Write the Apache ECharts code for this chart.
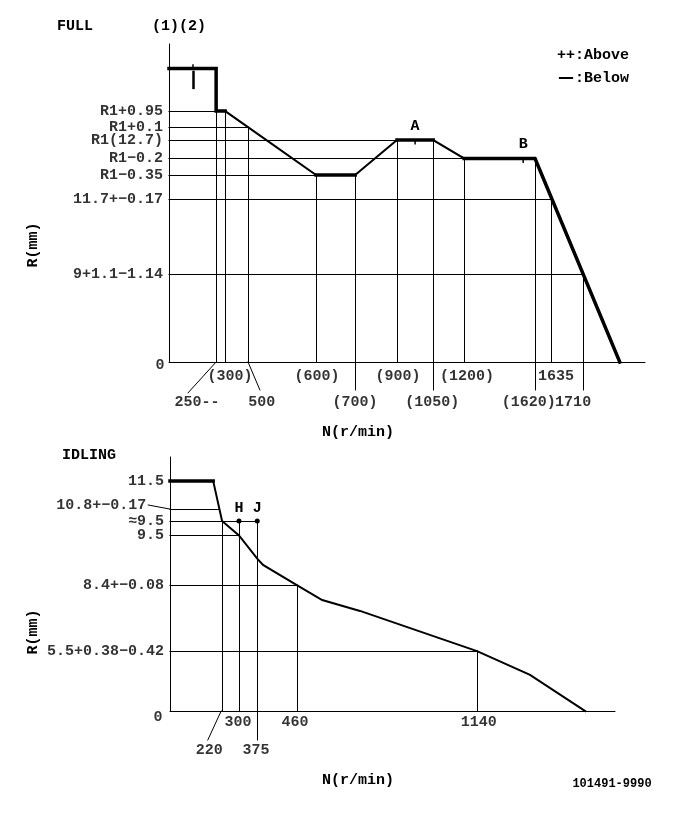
<!DOCTYPE html>
<html>
<head>
<meta charset="utf-8">
<script src="https://cdn.jsdelivr.net/npm/echarts@6/dist/echarts.min.js"></script>
<style>
html,body{margin:0;padding:0;background:#fff;}
#c{width:685px;height:814px;}
</style>
</head>
<body>
<div id="c"></div>
<script>
// ---------- FULL chart (schematic units: x 0..100, y 0..100) ----------
const fullCurveX = [0, 9.9, 9.9, 11.8, 30.9, 39.1, 47.9, 55.5, 62.0, 76.9, 94.7];
const fullCurveY = [92.3, 92.3, 78.9, 78.9, 58.8, 58.8, 69.8, 69.8, 64.0, 64.0, 0];
const fullThickRuns = [[0, 3], [4, 5], [6, 7], [8, 10]];

const fullLevelLabels = ['R1+0.95', 'R1+0.1', 'R1(12.7)', 'R1−0.2', 'R1−0.35', '11.7+−0.17', '9+1.1−1.14'];
const fullLevelY = [78.9, 73.9, 69.8, 64.0, 58.8, 51.3, 27.7];
const fullLevelEnd = [11.8, 16.6, 47.9, 62.0, 30.9, 80.4, 87.0];

const fullVX = [9.9, 11.8, 16.6, 30.9, 39.1, 47.9, 55.5, 62.0, 76.9, 80.4, 87.0];
const fullVTop = [78.9, 78.9, 73.9, 58.8, 58.8, 69.8, 69.8, 64.0, 64.0, 51.3, 27.7];
const fullVBottom = [0, 0, 0, 0, -8.8, 0, -8.8, 0, -8.8, 0, -8.8];

const fullTickLabels = ['250--', '(300)', '500', '(600)', '(700)', '(900)', '(1050)', '(1200)', '1635', '(1620)', '1710'];
const fullTickX = [5.9, 12.8, 19.5, 31.1, 39.1, 48.1, 55.3, 62.6, 81.3, 75.6, 84.9];
const fullTickRow = [1, 0, 1, 0, 1, 0, 1, 0, 0, 1, 1];
const fullRowY = [-4.4, -12.6];
const fullLeaders = [[[9.9, 0], [4.0, -9.7]], [[16.6, 0], [19.1, -8.8]]];

const fullMarkNames = ['A', 'B'];
const fullMarkX = [51.7, 74.4];
const fullMarkY = [69.8, 64.0];
const fullIMarkX = 5.0;
const fullIMarkTick = [93.4, 92.3];
const fullIMarkBar = [91.2, 86.2];

// ---------- IDLING chart ----------
const idleCurveX = [0, 9.7, 11.7, 15.5, 19.6, 20.9, 28.5, 34.2, 42.7, 69.0, 80.9, 93.3];
const idleCurveY = [90.6, 90.6, 74.8, 69.1, 60.0, 57.5, 49.6, 43.7, 39.4, 23.6, 14.2, 0];
const idleThickRuns = [[0, 1]];

const idleLevelLabels = ['11.5', '10.8+−0.17', '≈9.5', '9.5', '8.4+−0.08', '5.5+0.38−0.42'];
const idleLevelY = [90.6, 79.5, 74.8, 69.1, 49.6, 23.6];
const idleLevelEnd = [0, 11.1, 19.6, 15.5, 28.5, 69.0];
const idleLabelX = [0, -4.9, 0, 0, 0, 0];
const idleLabelY = [90.6, 81.1, 74.8, 69.1, 49.6, 23.6];
const idleLeaders = [[[-4.9, 81.1], [0, 79.5]], [[11.5, 0], [8.5, -11.4]]];

const idleVX = [11.7, 15.5, 19.6, 28.5, 69.0];
const idleVTop = [74.8, 74.8, 74.8, 49.6, 23.6];
const idleVBottom = [0, 0, -11.4, 0, 0];

const idleTickLabels = ['220', '300', '375', '460', '1140'];
const idleTickX = [8.8, 15.3, 19.3, 28.1, 69.4];
const idleTickRow = [1, 0, 1, 0, 0];
const idleRowY = [-4.3, -15.4];

const idleMarkNames = ['H', 'J'];
const idleMarkX = [15.5, 19.6];
const idleMarkY = [74.8, 74.8];

// ---------- helpers ----------
const FONT = 'Liberation Mono';
const txt = { color: '#000', fontFamily: FONT, fontWeight: 'bold', fontSize: 15 };

function pts(xs, ys, a, b) {
  const r = [];
  for (let i = a; i <= b; i++) r.push([xs[i], ys[i]]);
  return r;
}

function buildThin(levelY, levelEnd, vx, vTop, vBot, leaders) {
  const d = [];
  levelY.forEach((y, i) => { if (levelEnd[i] > 0) d.push({ coords: [[0, y], [levelEnd[i], y]] }); });
  vx.forEach((x, i) => d.push({ coords: [[x, vBot[i]], [x, vTop[i]]] }));
  leaders.forEach(l => d.push({ coords: l }));
  return d;
}

function linesSeries(gi, data, width, poly) {
  return {
    type: 'lines', coordinateSystem: 'cartesian2d', xAxisIndex: gi, yAxisIndex: gi,
    polyline: !!poly, clip: false, silent: true, data: data,
    lineStyle: { color: '#000', width: width, opacity: 1, cap: 'square', join: 'miter' }
  };
}

function labelSeries(gi, data, labelOpt) {
  return {
    type: 'scatter', xAxisIndex: gi, yAxisIndex: gi, clip: false, silent: true,
    symbolSize: 0, data: data,
    label: Object.assign({ show: true, formatter: '{b}' }, txt, labelOpt)
  };
}

const fullThin = buildThin(fullLevelY, fullLevelEnd, fullVX, fullVTop, fullVBottom, fullLeaders);
const idleThin = buildThin(idleLevelY, idleLevelEnd, idleVX, idleVTop, idleVBottom, idleLeaders);

const series = [
  linesSeries(0, fullThin, 1, false),
  linesSeries(0, [{ coords: pts(fullCurveX, fullCurveY, 0, fullCurveX.length - 1) }], 2, true),
  linesSeries(0, fullThickRuns.map(r => ({ coords: pts(fullCurveX, fullCurveY, r[0], r[1]) })), 3.5, true),
  linesSeries(0, [{ coords: [[fullIMarkX, fullIMarkTick[0]], [fullIMarkX, fullIMarkTick[1]]] }], 1.5, false),
  linesSeries(0, [{ coords: [[fullIMarkX, fullIMarkBar[0]], [fullIMarkX, fullIMarkBar[1]]] }], 2.5, false),
  labelSeries(0, fullLevelLabels.map((n, i) => ({ name: n, value: [0, fullLevelY[i]] })), { position: 'left', distance: 6 }),
  labelSeries(0, fullTickLabels.map((n, i) => ({ name: n, value: [fullTickX[i], fullRowY[fullTickRow[i]]] })),
    { position: [0, 0], align: 'center', verticalAlign: 'middle' }),
  labelSeries(0, [{ name: '0', value: [0, 0] }], { position: [-9, 3], align: 'center', verticalAlign: 'middle' }),
  {
    type: 'scatter', xAxisIndex: 0, yAxisIndex: 0, clip: false, silent: true,
    symbol: 'rect', symbolSize: [1.5, 5], symbolOffset: [0, 2], itemStyle: { color: '#000', opacity: 1 },
    data: fullMarkNames.map((n, i) => ({ name: n, value: [fullMarkX[i], fullMarkY[i]] })),
    label: Object.assign({ show: true, formatter: '{b}', position: 'top', distance: 6, opacity: 1 }, txt)
  },

  linesSeries(1, idleThin, 1, false),
  linesSeries(1, [{ coords: pts(idleCurveX, idleCurveY, 0, idleCurveX.length - 1) }], 2, true),
  linesSeries(1, idleThickRuns.map(r => ({ coords: pts(idleCurveX, idleCurveY, r[0], r[1]) })), 3.5, true),
  labelSeries(1, idleLevelLabels.map((n, i) => ({ name: n, value: [idleLabelX[i], idleLabelY[i]] })),
    { position: 'left', distance: 6 }),
  labelSeries(1, idleTickLabels.map((n, i) => ({ name: n, value: [idleTickX[i], idleRowY[idleTickRow[i]]] })),
    { position: [0, 0], align: 'center', verticalAlign: 'middle' }),
  labelSeries(1, [{ name: '0', value: [0, 0] }], { position: [-12, 6], align: 'center', verticalAlign: 'middle' }),
  {
    type: 'scatter', xAxisIndex: 1, yAxisIndex: 1, clip: false, silent: true,
    symbol: 'circle', symbolSize: 5, itemStyle: { color: '#000', opacity: 1 },
    data: idleMarkNames.map((n, i) => ({ name: n, value: [idleMarkX[i], idleMarkY[i]] })),
    label: Object.assign({ show: true, formatter: '{b}', position: 'top', distance: 3, opacity: 1 }, txt)
  }
];

// the 10.8 label sits at the leader start
series[12].data[1].label = { distance: 2 };

const axisCommon = {
  type: 'value', min: 0, max: 100,
  axisLine: { show: true, lineStyle: { color: '#000', width: 1 } },
  axisTick: { show: false }, axisLabel: { show: false }, splitLine: { show: false }
};

function gtext(x, y, text, extra) {
  return Object.assign({
    type: 'text', x: x, y: y, silent: true,
    style: Object.assign({ text: text, fill: '#000', font: 'bold 15px "Liberation Mono"', align: 'center', verticalAlign: 'middle' }, (extra && extra.style) || {})
  }, extra && extra.rotation !== undefined ? { rotation: extra.rotation } : {});
}

const option = {
  backgroundColor: '#fff',
  animation: false,
  grid: [
    { left: 169, top: 44, width: 476, height: 318 },
    { left: 170, top: 457, width: 445, height: 254 }
  ],
  xAxis: [Object.assign({ gridIndex: 0 }, axisCommon), Object.assign({ gridIndex: 1 }, axisCommon)],
  yAxis: [Object.assign({ gridIndex: 0 }, axisCommon), Object.assign({ gridIndex: 1 }, axisCommon)],
  graphic: [
    gtext(75, 26, 'FULL'),
    gtext(179, 26, '(1)(2)'),
    gtext(557, 55, '++:Above', { style: { align: 'left' } }),
    gtext(557, 78, '{d|—}:Below', { style: { align: 'left', rich: { d: { width: 18, align: 'center', font: 'bold 16px "DejaVu Sans"' } } } }),
    gtext(358, 432, 'N(r/min)'),
    gtext(33, 245, 'R(mm)', { rotation: Math.PI / 2 }),
    gtext(89, 455, 'IDLING'),
    gtext(358, 780, 'N(r/min)'),
    gtext(33, 632, 'R(mm)', { rotation: Math.PI / 2 }),
    gtext(612, 784, '101491-9990', { style: { font: 'bold 12px "Liberation Mono"' } })
  ],
  series: series
};

const chart = echarts.init(document.getElementById('c'), null, { renderer: 'canvas' });
chart.setOption(option);
</script>
</body>
</html>
